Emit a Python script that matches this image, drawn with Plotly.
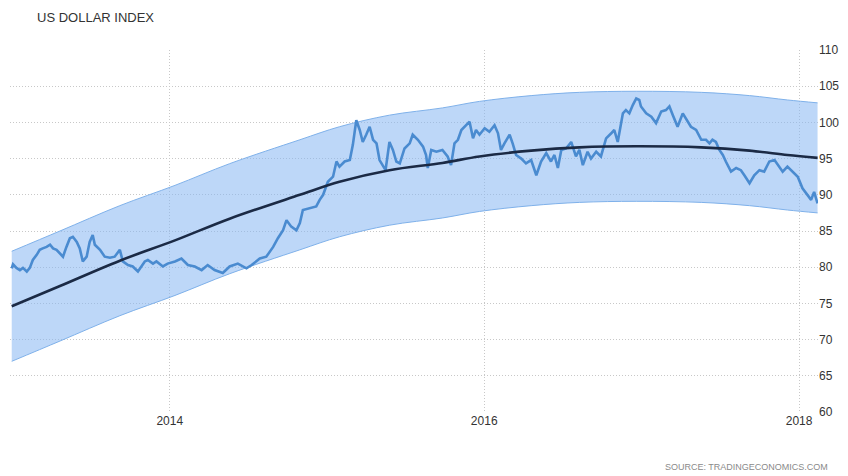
import plotly.graph_objects as go

# ---------------- data ----------------
dates = [
    "2012-12-30", "2013-01-02", "2013-01-10", "2013-01-18", "2013-01-25", "2013-02-03", "2013-02-10",
    "2013-02-17", "2013-02-26", "2013-03-05", "2013-03-12", "2013-03-21", "2013-03-29", "2013-04-05",
    "2013-04-13", "2013-04-21", "2013-04-28", "2013-05-06", "2013-05-14", "2013-05-21", "2013-05-30",
    "2013-06-06", "2013-06-13", "2013-06-22", "2013-06-29", "2013-07-06", "2013-07-11", "2013-07-23",
    "2013-08-03", "2013-08-15", "2013-08-26", "2013-09-07", "2013-09-14", "2013-09-26", "2013-10-07",
    "2013-10-19", "2013-10-27", "2013-11-04", "2013-11-11", "2013-11-23",
    "2013-12-01", "2013-12-16", "2013-12-27", "2014-01-13", "2014-01-28", "2014-02-12", "2014-02-28",
    "2014-03-16", "2014-03-30", "2014-04-15", "2014-05-04", "2014-05-20", "2014-06-08", "2014-06-28",
    "2014-07-10", "2014-07-29", "2014-08-13", "2014-08-29", "2014-09-09", "2014-09-21", "2014-09-29",
    "2014-10-10", "2014-10-22", "2014-10-30",
    "2014-11-06", "2014-11-22", "2014-12-07", "2014-12-15", "2014-12-23", "2015-01-03", "2015-01-15",
    "2015-01-23", "2015-01-30", "2015-02-11", "2015-02-23", "2015-03-02", "2015-03-10", "2015-03-18",
    "2015-03-25", "2015-04-02", "2015-04-10", "2015-04-18", "2015-04-26", "2015-05-03", "2015-05-11",
    "2015-05-17", "2015-05-26", "2015-06-03", "2015-06-11", "2015-06-19", "2015-06-30", "2015-07-12",
    "2015-07-19", "2015-07-31", "2015-08-12", "2015-08-19", "2015-08-23", "2015-08-31", "2015-09-12",
    "2015-09-26", "2015-10-08", "2015-10-16", "2015-10-24", "2015-11-01", "2015-11-09", "2015-11-20",
    "2015-11-28", "2015-12-06", "2015-12-13", "2015-12-21", "2016-01-02", "2016-01-13", "2016-01-25",
    "2016-02-02", "2016-02-09", "2016-02-17", "2016-02-29", "2016-03-07", "2016-03-15", "2016-03-27",
    "2016-04-07", "2016-04-19", "2016-05-01", "2016-05-12", "2016-05-24", "2016-06-04", "2016-06-12",
    "2016-06-20", "2016-06-28", "2016-07-09", "2016-07-21", "2016-08-01",
    "2016-08-09", "2016-08-17", "2016-08-28", "2016-09-05", "2016-09-17", "2016-09-28", "2016-10-10",
    "2016-10-22", "2016-10-29", "2016-11-06", "2016-11-18", "2016-11-25", "2016-12-03", "2016-12-11",
    "2016-12-19", "2016-12-26", "2016-12-30", "2017-01-11", "2017-01-23", "2017-02-03", "2017-02-15",
    "2017-02-26", "2017-03-06", "2017-03-14", "2017-03-25", "2017-04-06", "2017-04-17", "2017-04-25",
    "2017-05-07", "2017-05-19", "2017-05-30", "2017-06-07", "2017-06-14", "2017-06-22", "2017-06-30",
    "2017-07-08", "2017-07-15", "2017-07-27", "2017-08-08", "2017-08-19", "2017-08-27", "2017-09-08",
    "2017-09-19", "2017-10-01", "2017-10-12", "2017-10-24", "2017-11-05", "2017-11-16", "2017-11-24",
    "2017-12-05", "2017-12-17", "2017-12-29", "2018-01-09", "2018-01-21", "2018-01-29", "2018-02-05",
    "2018-02-13",
]
dollar_index = [
    79.85, 80.4, 79.9, 79.6, 79.9, 79.4, 79.9,
    81.0, 81.7, 82.4, 82.6, 82.8, 83.1, 82.6,
    82.4, 81.9, 81.45, 82.8, 84.0, 84.2, 83.5,
    82.6, 80.8, 81.45, 83.5, 84.45, 83.1, 82.4,
    81.45, 81.3, 81.45, 82.4, 80.8, 80.3, 80.1,
    79.4, 80.1, 80.8, 81.0, 80.5,
    80.8, 80.1, 80.5, 80.8, 81.2, 80.3, 80.1,
    79.6, 80.3, 79.6, 79.2, 80.1, 80.5, 79.85,
    80.3, 81.2, 81.45, 82.8, 84.0, 85.1, 86.5,
    85.6, 85.1, 86.1,
    87.9, 88.2, 88.4, 89.3, 90.0, 91.8, 92.5,
    94.6, 93.9, 94.6, 94.8, 96.9, 100.3, 98.95,
    97.3, 98.3, 99.4, 97.6, 97.1, 94.8, 94.1,
    93.4, 97.3, 96.2, 94.6, 94.35, 96.4, 97.1,
    98.3, 97.6, 96.65, 95.5, 93.7, 96.2, 95.95,
    96.2, 95.3, 94.1, 97.1, 97.6, 98.95, 99.6,
    100.1, 97.8, 98.95, 98.3, 99.2, 98.7, 99.6,
    98.5, 96.2, 97.1, 98.3, 97.1, 95.5, 95.0,
    94.35, 94.8, 92.7, 94.6, 95.75, 94.6, 95.5,
    93.7, 96.2, 96.4, 97.3, 95.3,
    96.2, 94.1, 95.95, 95.0, 95.95, 95.3, 97.8,
    98.5, 98.95, 97.3, 101.25, 101.7, 101.25, 102.4,
    103.3, 103.1, 102.2, 101.25, 100.8, 99.9, 101.5,
    101.7, 102.2, 101.0, 99.4, 101.25, 100.1, 99.4,
    98.95, 97.6, 97.6, 97.1, 97.6, 97.3, 96.2,
    95.5, 94.6, 93.2, 93.7, 93.4, 92.7, 91.6,
    92.7, 93.4, 93.2, 94.6, 94.8, 93.9, 93.2,
    93.9, 93.2, 92.5, 90.9, 90.0, 89.3, 90.4,
    88.8,
]

trend_dates = [
    "2012-12-30", "2013-04-21", "2013-09-07", "2014-01-13", "2014-05-20", "2014-10-30",
    "2015-01-30", "2015-05-26", "2015-09-26", "2015-12-21", "2016-04-19", "2016-08-09",
    "2016-12-19", "2017-05-19", "2017-09-08", "2017-12-05", "2018-02-13",
]
trend = [74.6, 77.4, 80.9, 83.7, 86.7, 90.0, 91.8, 93.4, 94.4, 95.3, 96.1, 96.55,
         96.7, 96.55, 96.1, 95.5, 95.1]
band_upper = [82.2, 85.0, 88.5, 91.3, 94.3, 97.6, 99.4, 101.0, 102.0, 102.9, 103.7, 104.15,
              104.3, 104.15, 103.7, 103.1, 102.7]
band_lower = [67.0, 69.8, 73.3, 76.1, 79.1, 82.4, 84.2, 85.8, 86.8, 87.7, 88.5, 88.95,
              89.1, 88.95, 88.5, 87.9, 87.5]

title_text = "US DOLLAR INDEX"
source_text = "SOURCE: TRADINGECONOMICS.COM"

# ---------------- figure ----------------
fig = go.Figure()

fig.add_trace(go.Scatter(
    x=trend_dates, y=band_lower, mode="lines",
    line=dict(color="#7fb1ea", width=1, shape="spline", smoothing=1.0),
    hoverinfo="skip", showlegend=False,
))
fig.add_trace(go.Scatter(
    x=trend_dates, y=band_upper, mode="lines", fill="tonexty",
    fillcolor="rgba(135,183,242,0.55)",
    line=dict(color="#7fb1ea", width=1, shape="spline", smoothing=1.0),
    hoverinfo="skip", showlegend=False,
))
fig.add_trace(go.Scatter(
    x=dates, y=dollar_index, mode="lines",
    line=dict(color="#4a8bd0", width=2.6),
    showlegend=False,
))
fig.add_trace(go.Scatter(
    x=trend_dates, y=trend, mode="lines",
    line=dict(color="#1b2a45", width=2.6, shape="spline", smoothing=1.0),
    showlegend=False,
))

grid_style = dict(showgrid=True, gridcolor="#c8c8c8", griddash="1px,2px", gridwidth=1,
                  showline=False, zeroline=False, ticks="")

fig.update_layout(
    width=848, height=476,
    margin=dict(l=10, r=30, t=50, b=64),
    paper_bgcolor="white", plot_bgcolor="white",
    title=dict(text=title_text, x=37 / 848, xanchor="left", y=1 - 17 / 476, yanchor="middle",
               font=dict(family="Liberation Sans Narrow, Arial Narrow, sans-serif", size=13, color="#333333")),
    xaxis=dict(
        type="date", range=["2012-12-26", "2018-02-14"],
        tick0="2014-01-01", dtick="M24", tickformat="%Y",
        tickfont=dict(family="Liberation Sans, Arial, sans-serif", size=12, color="#333333"),
        **grid_style,
    ),
    yaxis=dict(
        side="right", range=[60, 110], tick0=60, dtick=5,
        tickfont=dict(family="Liberation Sans, Arial, sans-serif", size=12, color="#333333"),
        **grid_style,
    ),
    annotations=[dict(
        text=source_text, xref="paper", yref="paper", x=(830 - 10) / 808, y=(412 - 467) / 362,
        xanchor="right", yanchor="middle", showarrow=False,
        font=dict(family="Liberation Sans Narrow, Arial Narrow, sans-serif", size=9, color="#8a8a8a"),
    )],
)

fig.write_html("out.html",
               config={"displayModeBar": False},
               post_script="document.body.style.margin='0';document.body.style.overflow='hidden';")
